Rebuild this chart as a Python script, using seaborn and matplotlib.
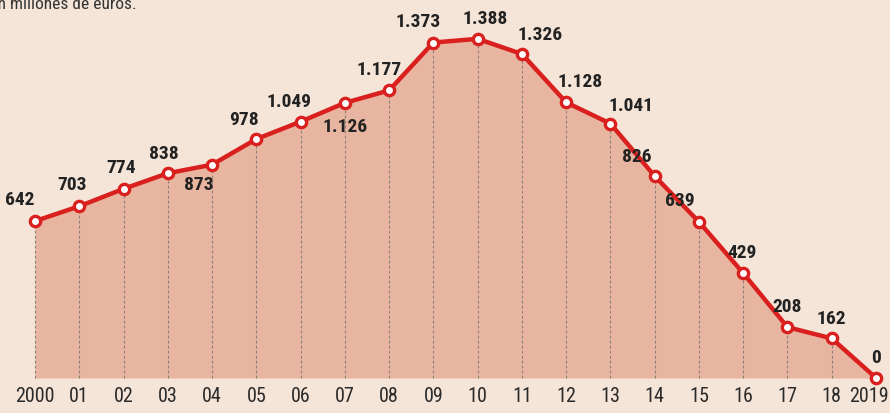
import numpy as np
import pandas as pd
import matplotlib.pyplot as plt
import seaborn as sns
from matplotlib import font_manager

years = list(range(2000, 2020))
values = [642, 703, 774, 838, 873, 978, 1049, 1126, 1177, 1373,
          1388, 1326, 1128, 1041, 826, 639, 429, 208, 162, 0]
tick_labels = ['2000', '01', '02', '03', '04', '05', '06', '07', '08', '09',
               '10', '11', '12', '13', '14', '15', '16', '17', '18', '2019']
subtitle = 'En millones de euros.'

# label offsets in pixels (dx, dy) relative to each point
label_offsets = [(-15, 21), (-7, 21), (-2, 21), (-4, 19), (-13, -20),
                 (-12, 19), (-12, 20), (0, -24), (-10, 20), (-15, 21),
                 (7, 20), (18, 19), (14, 20), (21, 18), (-18, 19),
                 (-19, 21), (-1, 20), (0, 20), (0, 19), (0, 20)]

bg = '#f5e4d8'
fill_col = '#e8b5a0'
red = '#d9201e'

names = {f.name for f in font_manager.fontManager.ttflist}
cond = next((n for n in ['Roboto Condensed', 'Archivo Narrow', 'PT Sans Narrow',
                         'Liberation Sans Narrow', 'Oswald'] if n in names), 'DejaVu Sans')

sns.set_theme(style='white')
plt.rcParams['font.family'] = [cond, 'DejaVu Sans']

df = pd.DataFrame({'year': years, 'value': values})

fig = plt.figure(figsize=(8.9, 4.13), dpi=100, facecolor=bg)
ax = fig.add_axes([0, 0, 1, 1])
ax.set_facecolor(bg)

ax.fill_between(df['year'], 0, df['value'], color=fill_col, lw=0, zorder=1)
ax.vlines(df['year'], 0, df['value'], colors='#8a7f7a', linestyles=(0, (2.5, 2)),
          lw=0.8, zorder=2)
sns.lineplot(data=df, x='year', y='value', ax=ax, color=red, lw=3.2, zorder=3)
ax.scatter(df['year'], df['value'], s=55, facecolor='white', edgecolor=red,
           linewidth=2.4, zorder=4)

for (yr, v), (dx, dy) in zip(zip(years, values), label_offsets):
    txt = f'{v:,}'.replace(',', '.')
    ax.annotate(txt, (yr, v), xytext=(dx * 0.72, dy * 0.72), textcoords='offset points',
                ha='center', va='center', fontsize=14, fontweight='bold', color='#222222')

ax.set_xlim(1999.209, 2019.316)
ax.set_ylim(-143.3, 1547)
ax.axis('off')

for i, (yr, lab) in enumerate(zip(years, tick_labels)):
    last = i == len(years) - 1
    ax.annotate(lab, (yr, 0), xytext=(13 * 0.72 if last else 0, -19 * 0.72),
                textcoords='offset points', ha='right' if last else 'center',
                va='center', fontsize=14.5, color='#2a2a2a')

fig.text(-0.012, 1 - 9 / 413, subtitle, ha='left', va='baseline', fontsize=12.5,
         color='#333333')

fig.savefig('out.png', dpi=100, facecolor=bg)
